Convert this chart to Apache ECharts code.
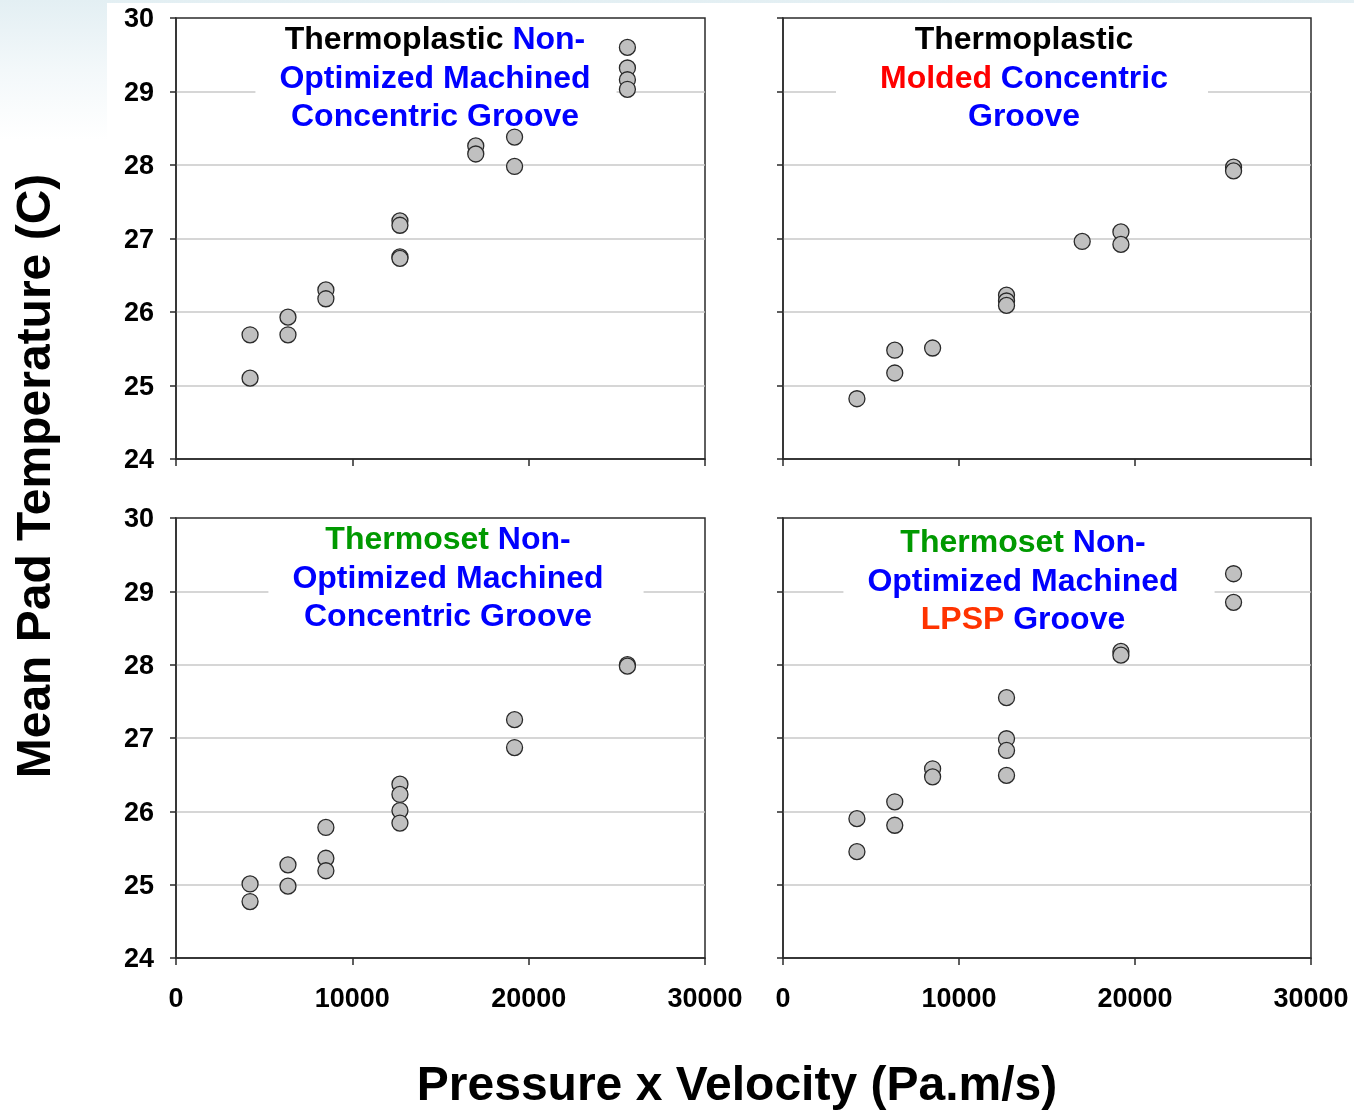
<!DOCTYPE html>
<html>
<head>
<meta charset="utf-8">
<script src="https://cdn.jsdelivr.net/npm/echarts@6/dist/echarts.min.js"></script>
<style>
  html, body { margin: 0; padding: 0; width: 1354px; height: 1113px; overflow: hidden;
    background: linear-gradient(to bottom, #e3eff3 0px, #f3f8fa 70px, #ffffff 140px); }
  #paper { position: absolute; left: 107px; top: 3px; right: 0; bottom: 0; background: #ffffff; }
  #chart { position: absolute; left: 0; top: 0; width: 1354px; height: 1113px; }
</style>
</head>
<body>
<div id="paper"></div>
<div id="chart"></div>
<script>
// ---- data ----
const xTicks = [0, 10000, 20000, 30000];
const yTicks = [24, 25, 26, 27, 28, 29, 30];

// Thermoplastic Non-Optimized Machined Concentric Groove
const tlX = [4200, 4200, 6350, 6350, 8500, 8500, 12700, 12700, 12700, 12700, 17000, 17000, 19200, 19200, 25600, 25600, 25600, 25600];
const tlY = [25.69, 25.10, 25.93, 25.69, 26.30, 26.18, 27.24, 27.18, 26.75, 26.73, 28.26, 28.15, 28.38, 27.98, 29.60, 29.32, 29.16, 29.03];

// Thermoplastic Molded Concentric Groove
const trX = [4200, 6350, 6350, 8500, 12700, 12700, 12700, 17000, 19200, 19200, 25600, 25600];
const trY = [24.82, 25.48, 25.17, 25.51, 26.23, 26.15, 26.09, 26.96, 27.09, 26.92, 27.97, 27.92];

// Thermoset Non-Optimized Machined Concentric Groove
const blX = [4200, 4200, 6350, 6350, 8500, 8500, 8500, 12700, 12700, 12700, 12700, 19200, 19200, 25600, 25600];
const blY = [25.01, 24.77, 25.27, 24.98, 25.78, 25.36, 25.19, 26.37, 26.23, 26.01, 25.84, 27.25, 26.87, 28.00, 27.98];

// Thermoset Non-Optimized Machined LPSP Groove
const brX = [4200, 4200, 6350, 6350, 8500, 8500, 12700, 12700, 12700, 12700, 19200, 19200, 25600, 25600];
const brY = [25.90, 25.45, 26.13, 25.81, 26.58, 26.47, 27.55, 26.99, 26.83, 26.49, 28.18, 28.13, 29.24, 28.85];

const xTitle = 'Pressure x Velocity (Pa.m/s)';
const yTitle = 'Mean Pad Temperature (C)';

// ---- chart ----
const FONT = "'Liberation Sans', Arial, sans-serif";
const chart = echarts.init(document.getElementById('chart'), null, { renderer: 'canvas' });

const grids = [
  { left: 176, top: 18, width: 529, height: 441 },
  { left: 783, top: 18, width: 528, height: 441 },
  { left: 176, top: 518, width: 529, height: 440 },
  { left: 783, top: 518, width: 528, height: 440 }
].map(g => Object.assign(g, {
  show: true, borderColor: '#2b2b2b', borderWidth: 1.5, backgroundColor: 'transparent',
  containLabel: false, outerBoundsMode: 'none'
}));

function xAxis(i, labels) {
  return {
    type: 'value', gridIndex: i, min: xTicks[0], max: xTicks[xTicks.length - 1], interval: xTicks[1] - xTicks[0],
    axisLine: { show: true, lineStyle: { color: '#2b2b2b', width: 1.5 } },
    axisTick: { show: true, inside: false, length: 7, lineStyle: { color: '#2b2b2b', width: 1.5 } },
    splitLine: { show: false },
    axisLabel: { show: labels, margin: 28, color: '#000', fontSize: 27, fontWeight: 'bold', fontFamily: FONT,
      formatter: v => String(v),
      showMinLabel: true, showMaxLabel: true, hideOverlap: false }
  };
}
function yAxis(i, labels) {
  return {
    type: 'value', gridIndex: i, min: yTicks[0], max: yTicks[yTicks.length - 1], interval: 1,
    axisLine: { show: true, lineStyle: { color: '#2b2b2b', width: 1.5 } },
    axisTick: { show: true, inside: false, length: 6, lineStyle: { color: '#2b2b2b', width: 1.5 } },
    splitLine: { show: true, showMinLine: false, showMaxLine: false, lineStyle: { color: '#c8c8c8', width: 1.5 } },
    axisLabel: { show: labels, margin: 22, color: '#000', fontSize: 27, fontWeight: 'bold', fontFamily: FONT,
      formatter: v => '{t|' + v + '}',
      rich: { t: { fontSize: 27, fontWeight: 'bold', fontFamily: FONT, color: '#000', padding: [4, 0, 0, 0] } },
      showMinLabel: true, showMaxLabel: true, hideOverlap: false }
  };
}

function pairs(xs, ys) { return xs.map((x, k) => [x, ys[k]]); }
function scatter(i, xs, ys) {
  return {
    type: 'scatter', xAxisIndex: i, yAxisIndex: i, data: pairs(xs, ys), z: 5,
    symbol: 'circle', symbolSize: 16,
    itemStyle: { color: '#c0c0c0', borderColor: '#2a2a2a', borderWidth: 1.3, opacity: 1 },
    emphasis: { disabled: true }, silent: true, animation: false
  };
}

const base = { fontSize: 32, fontWeight: 'bold', fontFamily: FONT, lineHeight: 38.5 };
const rich = {
  k: Object.assign({ color: '#000000' }, base),
  b: Object.assign({ color: '#0000ff' }, base),
  r: Object.assign({ color: '#ff0000' }, base),
  o: Object.assign({ color: '#ff3300' }, base),
  g: Object.assign({ color: '#009900' }, base)
};
function panelTitle(text, left, top, pad) {
  return {
    text: text, left: left, top: top, textAlign: 'center', padding: pad, z: 1,
    backgroundColor: '#ffffff', itemGap: 0,
    textStyle: Object.assign({ rich: rich }, base)
  };
}

const option = {
  animation: false,
  backgroundColor: 'transparent',
  grid: grids,
  xAxis: [xAxis(0, false), xAxis(1, false), xAxis(2, true), xAxis(3, true)],
  yAxis: [yAxis(0, true), yAxis(1, false), yAxis(2, true), yAxis(3, false)],
  title: [
    panelTitle('{k|Thermoplastic} {b|Non-}\n{b|Optimized Machined}\n{b|Concentric Groove}', 411, 21, [0, 26, 2, 24]),
    panelTitle('{k|Thermoplastic}\n{r|Molded} {b|Concentric}\n{b|Groove}', 980, 21, [0, 40, 2, 44]),
    panelTitle('{g|Thermoset} {b|Non-}\n{b|Optimized Machined}\n{b|Concentric Groove}', 424, 521, [0, 40, 2, 24]),
    panelTitle('{g|Thermoset} {b|Non-}\n{b|Optimized Machined}\n{o|LPSP} {b|Groove}', 999, 524, [0, 36, 2, 24])
  ],
  graphic: [
    { type: 'text', x: 37, y: 476, rotation: Math.PI / 2,
      style: { text: yTitle, fill: '#000', font: 'bold 48px ' + FONT, align: 'center', verticalAlign: 'middle' } },
    { type: 'text', x: 737, y: 1087,
      style: { text: xTitle, fill: '#000', font: 'bold 48px ' + FONT, align: 'center', verticalAlign: 'middle' } }
  ],
  series: [scatter(0, tlX, tlY), scatter(1, trX, trY), scatter(2, blX, blY), scatter(3, brX, brY)]
};
chart.setOption(option);
</script>
</body>
</html>
